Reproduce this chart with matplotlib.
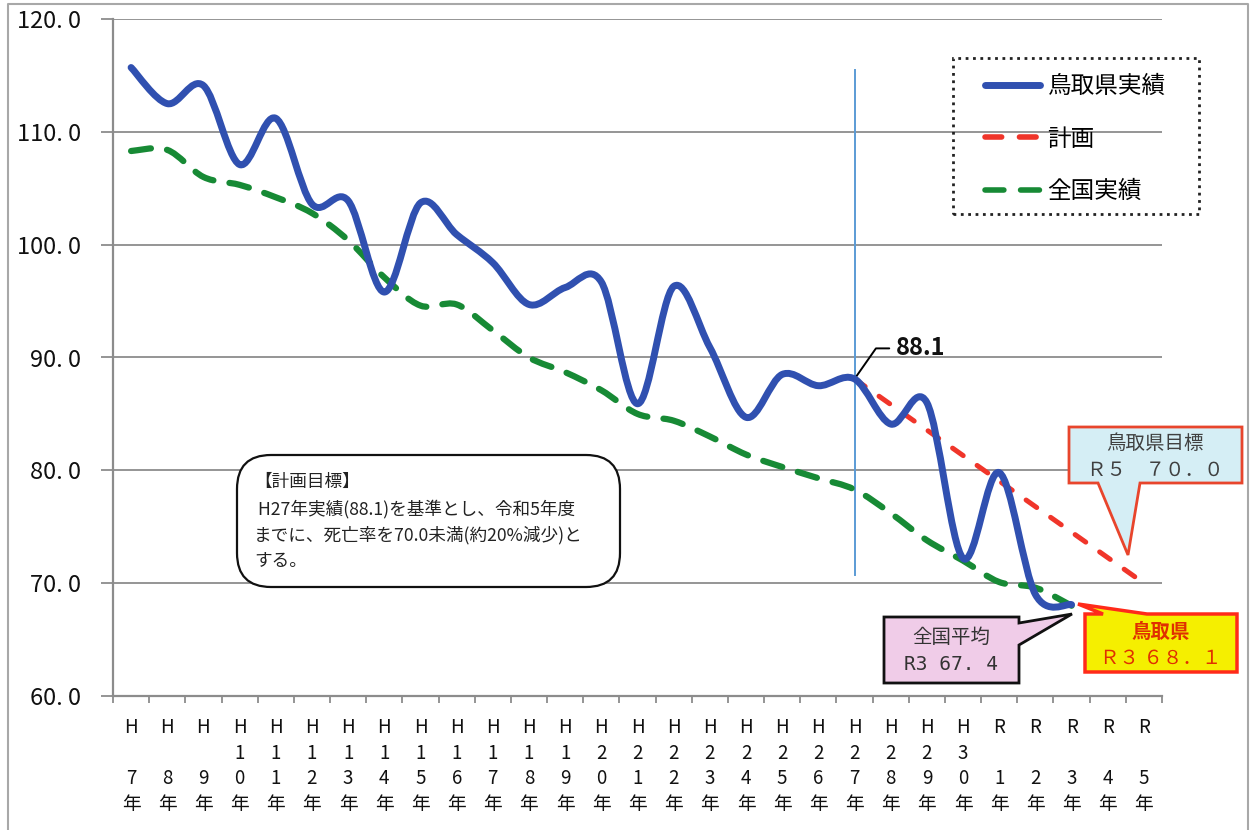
import numpy as np
import matplotlib
matplotlib.use("Agg")
import matplotlib.pyplot as plt
from matplotlib.path import Path
from matplotlib.patches import PathPatch, Polygon, FancyBboxPatch, Rectangle
from matplotlib.lines import Line2D
from matplotlib.transforms import Affine2D

plt.rcParams['font.family'] = ['Noto Sans CJK JP', 'DejaVu Sans']

# --- data ---
years = ['H7', 'H8', 'H9', 'H10', 'H11', 'H12', 'H13', 'H14', 'H15', 'H16',
         'H17', 'H18', 'H19', 'H20', 'H21', 'H22', 'H23', 'H24', 'H25', 'H26',
         'H27', 'H28', 'H29', 'H30', 'R1', 'R2', 'R3', 'R4', 'R5']
tottori = [115.7, 112.5, 114.1, 107.1, 111.2, 103.6, 103.9, 95.8, 103.7, 100.9,
           98.4, 94.7, 96.2, 96.7, 85.9, 96.3, 90.9, 84.7, 88.5, 87.5,
           88.1, 84.1, 86.0, 72.2, 79.8, 69.0, 68.1]
national = [108.3, 108.4, 106.0, 105.3, 104.2, 102.8, 100.4, 97.1, 94.6, 94.7,
            92.4, 90.0, 88.7, 87.1, 85.0, 84.4, 83.0, 81.4, 80.3, 79.3,
            78.3, 76.2, 73.8, 72.0, 70.1, 69.6, 68.0]
plan_years = ['H27', 'R5']
plan = [88.1, 70.0]
base_year = 'H27'
vline_range = [70.7, 115.5]
yticks = [60, 70, 80, 90, 100, 110, 120]

BLUE = '#3050b0'
RED = '#f0352a'
GREEN = '#178a35'


def smooth_path(xs, ys):
    # Excel style smoothed line: cubic bezier through every point
    pts = np.column_stack([xs, ys]).astype(float)
    n = len(pts)
    verts = [pts[0]]
    codes = [Path.MOVETO]
    for i in range(n - 1):
        p0 = pts[i - 1] if i > 0 else pts[i]
        p3 = pts[i + 2] if i + 2 < n else pts[i + 1]
        c1 = pts[i] + (pts[i + 1] - p0) / 6
        c2 = pts[i + 1] - (p3 - pts[i]) / 6
        verts += [c1, c2, pts[i + 1]]
        codes += [Path.CURVE4] * 3
    return Path(verts, codes)


def stacked(label):
    era, num = label[0], label[1:]
    rows = [era] + ([' ', num] if len(num) == 1 else list(num)) + ['年']
    return '\n'.join(rows)


W, H = 1252, 830
fig = plt.figure(figsize=(W / 100, H / 100), dpi=100)
ax = fig.add_axes([113 / W, 1 - 696 / H, 1049 / W, 677 / H])
px = Affine2D().scale(1 / 100) + fig.dpi_scale_trans


def P(x, y):
    return (x, H - y)


x = np.arange(len(years))
ax.set_xlim(-0.5, len(years) - 0.5)
ax.set_ylim(60, 120)

# grid and axes
ax.set_yticks(yticks)
ax.set_yticklabels([f'{v:.1f}'.replace('.', '. ') for v in yticks])
ax.yaxis.grid(True, color='#8c8c8c', lw=1.3)
ax.set_axisbelow(True)
for s in ['top', 'right']:
    ax.spines[s].set_visible(False)
for s in ['left', 'bottom']:
    ax.spines[s].set_color('#8c8c8c')
    ax.spines[s].set_linewidth(1.6)
ax.tick_params(axis='y', length=9, width=1.3, color='#8c8c8c', pad=14,
               labelsize=17, labelcolor='#111111')
ax.set_xticks(x)
ax.set_xticklabels([stacked(y) for y in years], fontsize=13.5, linespacing=1.3,
                   va='top')
ax.tick_params(axis='x', which='major', length=0, pad=15, labelcolor='#111111')
ax.set_xticks(np.arange(len(years) + 1) - 0.5, minor=True)
ax.tick_params(axis='x', which='minor', length=5, width=1.3, color='#8c8c8c')

# base year marker
ib = years.index(base_year)
ax.plot([ib, ib], vline_range, color='#5b9bd5', lw=1.4, zorder=2)

# series
n_t = len(tottori)
ax.add_patch(PathPatch(smooth_path(x[:len(national)], national), fill=False,
                       edgecolor=GREEN, lw=4.5, linestyle=(0, (3.2, 2.6)),
                       capstyle='round', zorder=3))
px_plan = [years.index(y) for y in plan_years]
ax.plot(px_plan, plan, color=RED, lw=3.6, linestyle=(0, (2.6, 3.4)),
        dash_capstyle='round', zorder=4)
ax.add_patch(PathPatch(smooth_path(x[:n_t], tottori), fill=False,
                       edgecolor=BLUE, lw=5, capstyle='round',
                       joinstyle='round', zorder=5))

# 88.1 label
ax.annotate(f'{tottori[ib]:.1f}', xy=(ib, tottori[ib]), xytext=(30, 22),
            textcoords='offset points', ha='left', va='center',
            fontsize=17, fontweight='bold', color='#111111',
            arrowprops=dict(arrowstyle='-', color='black', lw=1.4,
                            connectionstyle='angle,angleA=0,angleB=55,rad=0',
                            shrinkA=3, shrinkB=0))

# legend (dotted frame drawn separately)
handles = [
    Line2D([], [], color=BLUE, lw=5, solid_capstyle='round', label='鳥取県実績'),
    Line2D([], [], color=RED, lw=4, linestyle=(0, (3.0, 3.2)),
           dash_capstyle='round', label='計画'),
    Line2D([], [], color=GREEN, lw=4, linestyle=(0, (3.4, 3.0)),
           dash_capstyle='round', label='全国実績'),
]
ax.legend(handles=handles, loc='upper left',
          bbox_to_anchor=(985 / W, 1 - 75 / H),
          bbox_transform=fig.transFigure, fontsize=17, frameon=False,
          borderpad=0, labelspacing=1.25, handlelength=2.35,
          handletextpad=0.3, borderaxespad=0)
fig.add_artist(Rectangle(P(953, 214), 246, 156, transform=px, fill=False,
                         edgecolor='#222222', linestyle=':', lw=2))

# plan target note
note = FancyBboxPatch(P(237, 587), 383, 132,
                      boxstyle='round,pad=0,rounding_size=34',
                      transform=px, facecolor='white', edgecolor='#111111',
                      lw=1.6, zorder=6)
fig.add_artist(note)
fig.text(254, H - 473, '【計画目標】\n H27年実績(88.1)を基準とし、令和5年度\n'
         'までに、死亡率を70.0未満(約20%減少)と\nする。',
         transform=px, fontsize=12.7, va='top', ha='left', color='#222222',
         linespacing=1.55, zorder=7)

# callout: prefectural target
c1 = [(1069, 427), (1242, 427), (1242, 483), (1140, 483), (1128, 555),
      (1098, 483), (1069, 483)]
fig.add_artist(Polygon([P(*p) for p in c1], closed=True, transform=px,
                       facecolor='#d5eef5', edgecolor='#e8452c', lw=2, zorder=6))
fig.text(1155, H - 443, '鳥取県目標', transform=px, fontsize=14, ha='center',
         va='center', color='#404040', zorder=7)
fig.text(1155, H - 470, 'Ｒ５　７０．０', transform=px, fontsize=14,
         ha='center', va='center', color='#404040', zorder=7)

# callout: national average
c2 = [(884, 617), (1019, 617), (1019, 623), (1072, 614), (1019, 645),
      (1019, 683), (884, 683)]
fig.add_artist(Polygon([P(*p) for p in c2], closed=True, transform=px,
                       facecolor='#f0cce8', edgecolor='#111111', lw=2, zorder=6))
fig.text(951, H - 637, '全国平均', transform=px, fontsize=14, ha='center',
         va='center', color='#333333', zorder=7)
fig.text(951, H - 664, 'R3 67. 4', transform=px, fontsize=14, ha='center',
         va='center', color='#333333', family=['DejaVu Sans Mono'], zorder=7)

# callout: Tottori result
c3 = [(1085, 614), (1103, 614), (1078, 604), (1147, 614), (1237, 614),
      (1237, 672), (1085, 672)]
fig.add_artist(Polygon([P(*p) for p in c3], closed=True, transform=px,
                       facecolor='#f5ef00', edgecolor='#ff2a1a', lw=2.5, zorder=6))
fig.text(1161, H - 632, '鳥取県', transform=px, fontsize=14, ha='center',
         va='center', color='#e03000', fontweight='bold', zorder=7)
fig.text(1161, H - 658, 'Ｒ３ ６８．１', transform=px, fontsize=14,
         ha='center', va='center', color='#e03000', zorder=7)

# outer frame of the original image
fig.add_artist(Line2D([8, 8, 1248, 1248], [0, H - 4, H - 4, 0], transform=px,
                      color='#a8a8a8', lw=1.5))

fig.savefig('out.png', dpi=100)
